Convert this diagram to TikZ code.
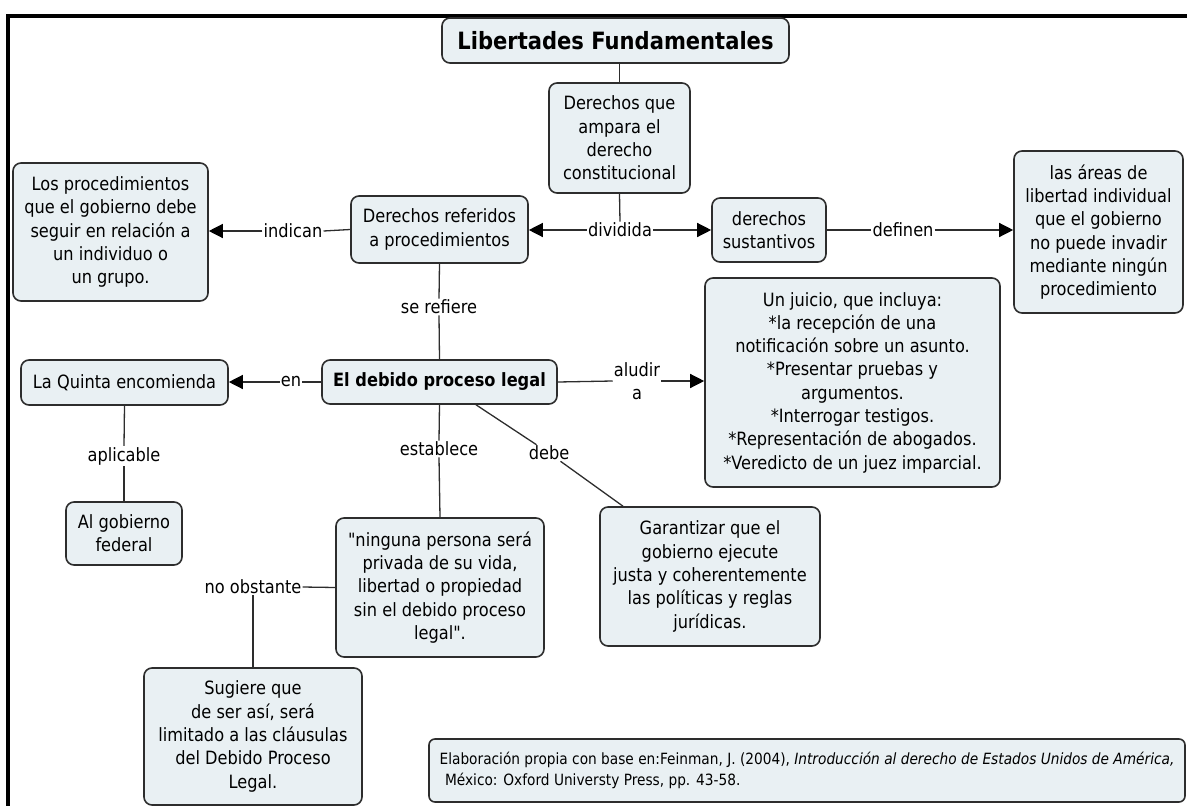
\documentclass[tikz,border=0pt]{standalone}
\usepackage{fontspec}
\setmainfont[FakeStretch=0.885,Ligatures=TeXOff]{DejaVu Sans}
\usepackage{xcolor}
\usetikzlibrary{arrows.meta}

\definecolor{relleno}{RGB}{233,240,243}
\definecolor{borde}{RGB}{45,45,45}
\definecolor{linea}{RGB}{45,45,45}
\newcommand{\fuentecaja}{\fontsize{18.3}{23.3}\selectfont}
\newcommand{\fuentetitulo}{\fontsize{23.8}{28}\selectfont\bfseries}
\newcommand{\fuentepie}{\fontsize{15.5}{21}\selectfont}

\begin{document}
\begin{tikzpicture}[x=1pt, y=-1pt,
    caja/.style={draw=borde, fill=relleno, line width=1.6pt, rounded corners=8pt, align=center, inner sep=2pt, font=\fuentecaja},
    enlace/.style={fill=white, inner sep=1pt, font=\fuentecaja},
    con/.style={draw=linea, line width=1.3pt},
    flecha/.style={con, -{Triangle[length=14pt,width=14pt,color=black]}}]
    \useasboundingbox (0,0) rectangle (1187,806);

    % marco
    \draw[line width=4pt] (8,806) -- (8,16) -- (1187,16);

    % conceptos
    \node[caja, font=\fuentetitulo, minimum width=347, minimum height=45] (titulo) at (615.5,40.5) {Libertades Fundamentales};
    \node[caja, minimum width=141, minimum height=110] (amparo) at (619.5,138) {Derechos que\\ampara el\\derecho\\constitucional};
    \node[caja, minimum width=177, minimum height=67] (referidos) at (439.5,229.5) {Derechos referidos\\a procedimientos};
    \node[caja, minimum width=114, minimum height=64] (sustantivos) at (769,230) {derechos\\sustantivos};
    \node[caja, minimum width=169, minimum height=162] (areas) at (1098.5,232) {las áreas de\\libertad individual\\que el gobierno\\no puede invadir\\mediante ningún\\procedimiento};
    \node[caja, minimum width=195, minimum height=138] (procedimientos) at (110.5,232) {Los procedimientos\\que el gobierno debe\\seguir en relación a\\un individuo o\\un grupo.};
    \node[caja, font=\fuentecaja\bfseries, minimum width=235, minimum height=44] (debido) at (439.5,382) {El debido proceso legal};
    \node[caja, minimum width=207, minimum height=45] (quinta) at (124.5,382.5) {La Quinta encomienda};
    \node[caja, minimum width=295, minimum height=209] (juicio) at (852.5,382.5) {Un juicio, que incluya:\\*la recepción de una\\notificación sobre un asunto.\\*Presentar pruebas y\\argumentos.\\*Interrogar testigos.\\*Representación de abogados.\\*Veredicto de un juez imparcial.};
    \node[caja, minimum width=116, minimum height=63] (federal) at (124,533.5) {Al gobierno\\federal};
    \node[caja, minimum width=208, minimum height=139] (ninguna) at (440,587.5) {"ninguna persona será\\privada de su vida,\\libertad o propiedad\\sin el debido proceso\\legal".};
    \node[caja, minimum width=220, minimum height=139] (garantizar) at (710,576.5) {Garantizar que el\\gobierno ejecute\\justa y coherentemente\\las políticas y reglas\\jurídicas.};
    \node[caja, minimum width=218, minimum height=137] (sugiere) at (253,736.5) {Sugiere que\\de ser así, será\\limitado a las cláusulas\\del Debido Proceso\\Legal.};
    \node[caja, font=\fuentepie, align=left, rounded corners=6pt, minimum width=756, minimum height=63] (fuente) at (807,770.5) {Elaboración propia con base en:Feinman, J. (2004), \textit{Introducción al derecho de Estados Unidos de América,}\\\hspace{0.35em}México: Oxford Universty Press, pp. 43-58.};

    % palabras de enlace
    \node[enlace] (dividida) at (620,230) {dividida};
    \node[enlace] (definen) at (903,230) {definen};
    \node[enlace] (indican) at (293,231) {indican};
    \node[enlace] (serefiere) at (439,307) {se refiere};
    \node[enlace] (en) at (291,382) {en};
    \node[enlace, align=center] (aludir) at (637,381) {aludir\\a};
    \node[enlace] (aplicable) at (124,456) {aplicable};
    \node[enlace] (establece) at (439,449) {establece};
    \node[enlace] (debe) at (549,453) {debe};
    \node[enlace] (noobstante) at (253,587) {no obstante};

    % conexiones
    \draw[con] (amparo.north |- titulo.south) -- (amparo.north);
    \draw[con] (amparo.south) -- (dividida.north);
    \draw[flecha] (dividida.west) -- (dividida.west -| referidos.east);
    \draw[flecha] (dividida.east) -- (dividida.east -| sustantivos.west);
    \draw[con] (sustantivos.east) -- (definen.west);
    \draw[flecha] (definen.east) -- (definen.east -| areas.west);
    \draw[con] (referidos.west) -- (indican.east);
    \draw[flecha] (indican.west) -- (indican.west -| procedimientos.east);
    \draw[con] (referidos.south) -- (serefiere.north);
    \draw[con] (serefiere.south) -- (debido.north);
    \draw[con] (debido.west) -- (en.east);
    \draw[flecha] (en.west) -- (en.west -| quinta.east);
    \draw[con] (debido.east) -- (aludir.west);
    \draw[flecha] (aludir.east) -- (aludir.east -| juicio.west);
    \draw[con] (quinta.south) -- (aplicable.north);
    \draw[con] (aplicable.south) -- (federal.north);
    \draw[con] (debido.south) -- (establece.north);
    \draw[con] (establece.south) -- (ninguna.north);
    \draw[con] ([xshift=36.5pt]debido.south) -- (debe) -- ([xshift=-87pt]garantizar.north);
    \draw[con] (ninguna.west) -- (noobstante.east);
    \draw[con] (noobstante.south) -- (sugiere.north);
\end{tikzpicture}
\end{document}
